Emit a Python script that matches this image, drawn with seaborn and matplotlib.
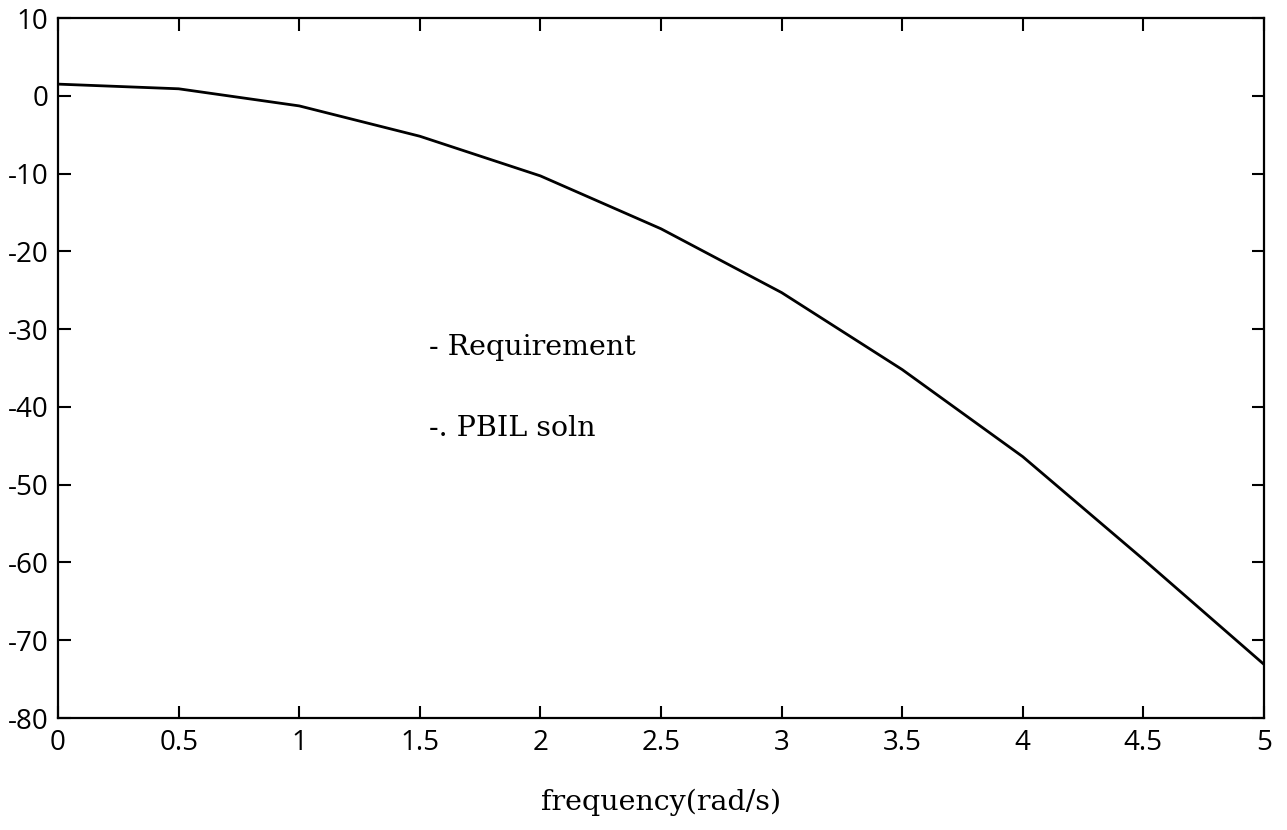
import matplotlib
matplotlib.use("Agg")
import matplotlib.pyplot as plt
import seaborn as sns
import pandas as pd

# Frequency response magnitude sampled every 0.5 rad/s
frequency = [0.0, 0.5, 1.0, 1.5, 2.0, 2.5, 3.0, 3.5, 4.0, 4.5, 5.0]
magnitude = [1.5, 0.9, -1.3, -5.2, -10.3, -17.1, -25.3, -35.2, -46.4, -59.6, -73.1]

x_ticks = [0, 0.5, 1, 1.5, 2, 2.5, 3, 3.5, 4, 4.5, 5]
x_tick_labels = ["0", "0.5", "1", "1.5", "2", "2.5", "3", "3.5", "4", "4.5", "5"]
y_ticks = [10, 0, -10, -20, -30, -40, -50, -60, -70, -80]
y_tick_labels = ["10", "0", "-10", "-20", "-30", "-40", "-50", "-60", "-70", "-80"]

legend_lines = ["- Requirement", "-. PBIL soln"]

sns.set_theme(style="ticks")
plt.rcParams["font.family"] = ["DejaVu Serif"]

df = pd.DataFrame({"frequency": frequency, "magnitude": magnitude})

fig = plt.figure(figsize=(12.87, 8.30), dpi=100)
ax = fig.add_axes([0.0451, 0.1349, 0.9370, 0.8434])

sns.lineplot(data=df, x="frequency", y="magnitude", ax=ax,
             color="black", linewidth=2.0)

ax.set_xlim(0, 5)
ax.set_ylim(-80, 10)
ax.set_xticks(x_ticks)
ax.set_yticks(y_ticks)
tick_font = {"family": ["Open Sans", "DejaVu Sans"], "size": 20}
ax.set_xticklabels(x_tick_labels, fontdict=tick_font)
ax.set_yticklabels(y_tick_labels, fontdict=tick_font)
ax.tick_params(direction="in", length=9, width=1.5, top=True, right=True,
               colors="black")
ax.tick_params(axis="x", pad=8)
ax.tick_params(axis="y", pad=7)
for side in ax.spines.values():
    side.set_visible(True)
    side.set_linewidth(1.6)
    side.set_color("black")

ax.set_xlabel("")
ax.set_ylabel("")
fig.text(0.514, 0.033, "frequency(rad/s)", ha="center", va="center",
         fontsize=20.5, color="black")

ax.text(1.54, -32.3, legend_lines[0], ha="left", va="center",
        fontsize=20.5, color="black")
ax.text(1.54, -42.8, legend_lines[1], ha="left", va="center",
        fontsize=20.5, color="black")

fig.savefig("out.png", dpi=100, facecolor="white")
